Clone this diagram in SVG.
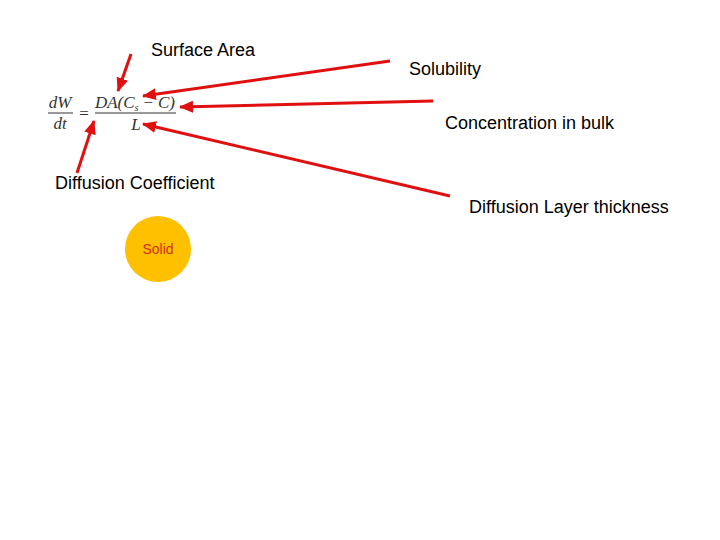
<svg xmlns="http://www.w3.org/2000/svg" width="720" height="540" viewBox="0 0 720 540">
<style>
.lbl{font-family:"Liberation Sans",Arial,sans-serif;font-size:18px;fill:#000}
.eq{font-family:"Liberation Serif","Times New Roman",serif;font-style:italic;font-size:17px;fill:#333}
.eqn{font-family:"Liberation Serif","Times New Roman",serif;font-size:17px;fill:#333}
.arr{stroke:#e01010;stroke-width:3;fill:none;marker-end:url(#ah)}
</style>
<defs>
<marker id="ah" markerUnits="userSpaceOnUse" markerWidth="14" markerHeight="12" refX="13" refY="6" orient="auto">
<path d="M0,0 L14,6 L0,12 Z" fill="#e01010"/>
</marker>
</defs>
<rect width="720" height="540" fill="#fff"/>
<g id="equation">
<text class="eq" x="60" y="108" text-anchor="middle">dW</text>
<line x1="48" y1="113" x2="73" y2="113" stroke="#333" stroke-width="1"/>
<text class="eq" x="60" y="129" text-anchor="middle">dt</text>
<text class="eqn" x="84" y="119" text-anchor="middle">=</text>
<text class="eq" x="95" y="108" textLength="80" lengthAdjust="spacing">DA(C<tspan font-size="10" dy="3">s</tspan><tspan dy="-3"> − C)</tspan></text>
<line x1="95" y1="113" x2="176" y2="113" stroke="#333" stroke-width="1"/>
<text class="eq" x="136" y="130" text-anchor="middle">L</text>
</g>
<g id="surface-area"><text class="lbl" x="151" y="56">Surface Area</text></g>
<g id="solubility"><text class="lbl" x="409" y="75">Solubility</text></g>
<g id="concentration"><text class="lbl" x="445" y="129">Concentration in bulk</text></g>
<g id="diffusion-coefficient"><text class="lbl" x="55" y="189">Diffusion Coefficient</text></g>
<g id="diffusion-layer"><text class="lbl" x="469" y="213">Diffusion Layer thickness</text></g>
<g id="solid">
<circle cx="158" cy="249" r="33" fill="#ffc000"/>
<text x="158" y="254" text-anchor="middle" font-family="'Liberation Sans',Arial,sans-serif" font-size="14" fill="#d03010">Solid</text>
</g>
<g id="connectors">
<line class="arr" x1="131" y1="54" x2="118" y2="91"/>
<line class="arr" x1="390" y1="61" x2="143" y2="96"/>
<line class="arr" x1="433" y1="101" x2="180" y2="107"/>
<line class="arr" x1="450" y1="196" x2="143" y2="124"/>
<line class="arr" x1="77" y1="173" x2="94" y2="121"/>
</g>
</svg>
